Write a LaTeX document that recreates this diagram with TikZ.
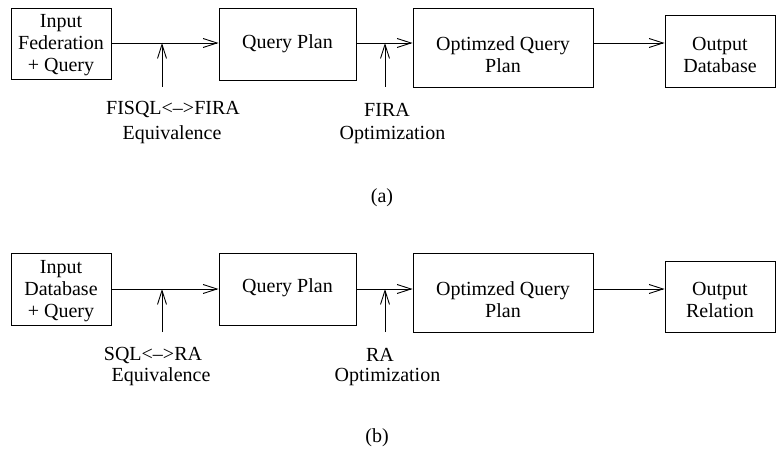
\documentclass[tikz,border=0pt]{standalone}
\usepackage{fontspec}
\setmainfont{Liberation Serif}
\usetikzlibrary{arrows.meta}
\begin{document}
\begin{tikzpicture}[x=1pt,y=-1pt,
  every node/.style={font=\fontsize{20}{22}\selectfont, inner sep=0pt},
  box/.style={draw, line width=0.9pt, minimum width=#1},
  txt/.style={align=center},
  arr/.style={line width=0.9pt, -{Straight Barb[length=14pt,width=9pt,line width=0.9pt]}}]
\useasboundingbox (0,0) rectangle (776,454);
% ---------- (a) ----------
\node[draw, line width=0.9pt, minimum width=100pt, minimum height=71pt] (a1) at (61,43.5) {};
\node[txt] (a1t) at (61,45) {Input\\Federation\\+ Query};
\node[draw, line width=0.9pt, minimum width=137pt, minimum height=72pt] (a2) at (287.5,44) {};
\node[txt] (a2t) at (287.5,44) {Query Plan};
\node[draw, line width=0.9pt, minimum width=180pt, minimum height=79pt] (a3) at (503,47.5) {};
\node[txt] (a3t) at (503,55) {Optimzed Query\\Plan};
\node[draw, line width=0.9pt, minimum width=110pt, minimum height=72pt] (a4) at (720,51) {};
\node[txt] (a4t) at (720,55) {Output\\Database};
\coordinate (ya) at (0,43);
\draw[arr] (a1.east|-ya) -- (a2.west|-ya);
\draw[arr] (a2.east|-ya) -- (a3.west|-ya);
\draw[arr] (a3.east|-ya) -- (a4.west|-ya);
\coordinate (va1) at (162,87);
\coordinate (va2) at (385,87);
\draw[arr] (va1) -- (va1|-ya);
\draw[arr] (va2) -- (va2|-ya);
\node (la1) at (173,110) {FISQL<\textendash>FIRA};
\node (la2) at (172,135) {Equivalence};
\node (la3) at (387,110) {FIRA};
\node (la4) at (392.5,135) {Optimization};
\node (capa) at (382,198) {(a)};
% ---------- (b) ----------
\node[draw, line width=0.9pt, minimum width=100pt, minimum height=72pt] (b1) at (61,289) {};
\node[txt] (b1t) at (61,291) {Input\\Database\\+ Query};
\node[draw, line width=0.9pt, minimum width=137pt, minimum height=72pt] (b2) at (287.5,289) {};
\node[txt] (b2t) at (287.5,288) {Query Plan};
\node[draw, line width=0.9pt, minimum width=180pt, minimum height=79pt] (b3) at (503,292.5) {};
\node[txt] (b3t) at (503,300) {Optimzed Query\\Plan};
\node[draw, line width=0.9pt, minimum width=110pt, minimum height=71pt] (b4) at (720,296.5) {};
\node[txt] (b4t) at (720,300) {Output\\Relation};
\coordinate (yb) at (0,289);
\draw[arr] (b1.east|-yb) -- (b2.west|-yb);
\draw[arr] (b2.east|-yb) -- (b3.west|-yb);
\draw[arr] (b3.east|-yb) -- (b4.west|-yb);
\coordinate (vb1) at (162,332);
\coordinate (vb2) at (385,332);
\draw[arr] (vb1) -- (vb1|-yb);
\draw[arr] (vb2) -- (vb2|-yb);
\node (lb1) at (153,355) {SQL<\textendash>RA};
\node (lb2) at (161,377) {Equivalence};
\node (lb3) at (380,355) {RA};
\node (lb4) at (387.5,377) {Optimization};
\node (capb) at (377,438) {(b)};
\end{tikzpicture}
\end{document}
